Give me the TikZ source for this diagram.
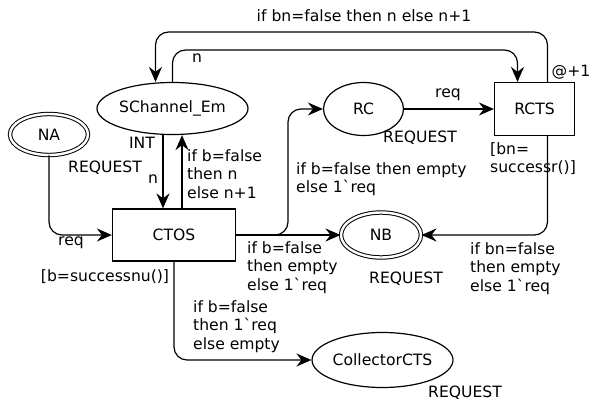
\documentclass[tikz,border=0pt]{standalone}
\usepackage{fontspec}
\setmainfont{DejaVu Sans}
\usepackage{tikz}
\usetikzlibrary{arrows.meta, shapes.geometric}
\tikzset{
    place/.style={ellipse, draw, line width=1.2pt, inner sep=0pt}, % 库所
    port/.style={place, double, double distance=2.4pt, line width=1pt}, % 端口库所
    trans/.style={rectangle, draw, line width=1.2pt, inner sep=0pt}, % 变迁
    arc/.style={line width=1.2pt, rounded corners=13pt, -{Stealth[length=15pt, width=13pt, inset=5pt]}}, % 弧
    lbl/.style={inner sep=0pt, align=left, font=\fontsize{15.6}{18.5}\selectfont} % 标注
}
\newcommand{\bq}{\textasciigrave}

\begin{document}
\begin{tikzpicture}[x=1pt, y=-1pt, font=\fontsize{15.6}{18.5}\selectfont]
    \useasboundingbox (0,0) rectangle (603,401);

    \node[place, minimum width=130, minimum height=52] (sch) at (172.5,108.5) {SChannel\_Em};
    \node[port, minimum width=78, minimum height=41] (na) at (49,134.5) {NA};
    \node[place, minimum width=80, minimum height=53] (rc) at (363.5,109) {RC};
    \node[trans, minimum width=80, minimum height=53] (rcts) at (534.5,109) {RCTS};
    \node[trans, minimum width=123, minimum height=52] (ctos) at (174,235) {CTOS};
    \node[port, minimum width=80, minimum height=45] (nb) at (381,235) {NB};
    \node[place, minimum width=118, minimum height=55] (coll) at (382.5,360) {CollectorCTS};

    \coordinate (rctsOut) at ([xshift=13pt]rcts.north);
    \coordinate (rctsIn) at ([xshift=-17pt]rcts.north);
    \coordinate (schIn) at ([xshift=-17pt]sch.north);

    \draw[arc] (rctsOut) -- (rctsOut |- 0,32) -| (schIn);
    \draw[arc] (sch.north) -- (sch.north |- 0,50) -| (rctsIn);
    \draw[arc] (sch.south -| 163,0) -- (ctos.north -| 163,0);
    \draw[arc] (ctos.north -| 182,0) -- (sch.south -| 182,0);
    \draw[arc] (na.south) |- (ctos.west);
    \draw[arc] (ctos.east) -- (nb.west);
    \draw[arc] (ctos.east) -- (288,235) |- (rc.west);
    \draw[arc] (rc.east) -- (rcts.west);
    \draw[arc] (rcts.south -| rctsOut) |- (nb.east);
    \draw[arc] (ctos.south) |- (coll.west);

    \node[lbl] (l1) at (364,16) {if bn=false then n else n+1};
    \node[lbl] (l2) at (197,58) {n};
    \node[lbl] (l3) at (571,72) {@+1};
    \node[lbl] (l4) at (142,143) {INT};
    \node[lbl] (l5) at (105,168) {REQUEST};
    \node[lbl] (l6) at (153,179) {n};
    \node[lbl, anchor=north west] (l7) at (187,149) {if b=false\\then n\\else n+1};
    \node[lbl] (l8) at (448,95) {req};
    \node[lbl] (l9) at (420,138) {REQUEST};
    \node[lbl, anchor=north west] (l10) at (490,142) {[bn=\\successr()]};
    \node[lbl, anchor=north west] (l11) at (296,162) {if b=false then empty\\else 1\bq req};
    \node[lbl] (l12) at (71,243) {req};
    \node[lbl] (l13) at (105,277) {[b=successnu()]};
    \node[lbl, anchor=north west] (l14) at (247,241) {if b=false\\then empty\\else 1\bq req};
    \node[lbl] (l15) at (406,279) {REQUEST};
    \node[lbl, anchor=north west] (l16) at (470,242) {if bn=false\\then empty\\else 1\bq req};
    \node[lbl, anchor=north west] (l17) at (193,300) {if b=false\\then 1\bq req\\else empty};
    \node[lbl] (l18) at (465,393) {REQUEST};
\end{tikzpicture}
\end{document}
